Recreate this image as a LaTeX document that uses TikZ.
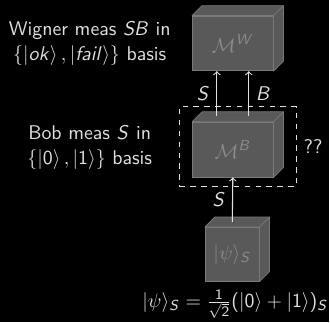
\documentclass[tikz,border=0pt,11pt]{standalone}
\usepackage{amsmath}
\usetikzlibrary{calc}
\definecolor{boxFill}{RGB}{89,89,89}
\definecolor{boxEdge}{RGB}{122,122,122}
\definecolor{boxText}{RGB}{140,140,140}
\colorlet{fgText}{white!88!black}
% sans math: upright digits, slanted letters, Greek kept
\SetSymbolFont{operators}{normal}{OT1}{cmss}{m}{n}
\DeclareSymbolFont{sfsl}{OT1}{cmss}{m}{sl}
\makeatletter
\@tfor\ltr:=ABCDEFGHIJKLMNOPQRSTUVWXYZabcdefghijklmnopqrstuvwxyz\do{%
  \edef\next{\noexpand\DeclareMathSymbol{\ltr}{\noexpand\mathalpha}{sfsl}{`\ltr}}\next}
\makeatother

\begin{document}
\sffamily
\begin{tikzpicture}[x=0.55pt, y=-0.55pt,
  meas/.style={fill=boxFill, draw=boxEdge, text=boxText, inner sep=0pt,
    minimum width=81*0.55pt, minimum height=55*0.55pt},
  face/.style={fill=boxFill, draw=boxEdge, line join=round},
  wire/.style={->, semithick, fgText},
  lbl/.style={text=fgText, align=center},
]
  \fill[black] (0,0) rectangle (330,323);

  % the three measurement boxes
  \node[meas] (mw) at (233.5,43.5) {$\mathcal{M}^W$};
  \node[meas] (mb) at (233.5,150) {$\mathcal{M}^B$};
  \node[meas, minimum width=54*0.55pt, minimum height=54*0.55pt] (psi) at (233,255) {$\lvert\psi\rangle_S$};
  \foreach \b in {mw, mb, psi} {
    \draw[face] (\b.north west) -- ++(10,-10) -- ($(\b.north east)+(10,-10)$)
      -- ($(\b.south east)+(10,-10)$) -- (\b.south east) -- (\b.north east) -- cycle;
    \draw[boxEdge] (\b.north east) -- ++(10,-10);
  }

  % wires
  \draw[wire] ([shift={(-16,-6)}]mb.north) -- node[lbl, left] (ls) {$S$} ([shift={(-16,0)}]mw.south);
  \draw[wire] ([shift={(16,-6)}]mb.north) -- node[lbl, right] (lb) {$B$} ([shift={(16,0)}]mw.south);
  \draw[wire] ([shift={(0,-5)}]psi.north) -- node[lbl, left] (ls2) {$S$} (mb.south);

  % Bob's lab
  \node[draw=fgText, dashed, semithick, inner sep=0pt,
    minimum width=117*0.55pt, minimum height=80*0.55pt] (bob) at (238.5,147) {};
  \node[lbl, right] (unk) at (bob.east) {??};

  \node[lbl] (wigtxt) at (90,44) {Wigner meas $SB$ in\\$\{\lvert ok\rangle\,,\lvert fail\rangle\}$ basis};
  \node[lbl] (bobtxt) at (90,148) {Bob meas $S$ in\\$\{\lvert 0\rangle\,,\lvert 1\rangle\}$ basis};
  \node[lbl, inner sep=1pt] (state) at (236,305) {$\lvert\psi\rangle_S=\frac{1}{\sqrt{2}}(\lvert0\rangle+\lvert1\rangle)_S$};
\end{tikzpicture}
\end{document}
